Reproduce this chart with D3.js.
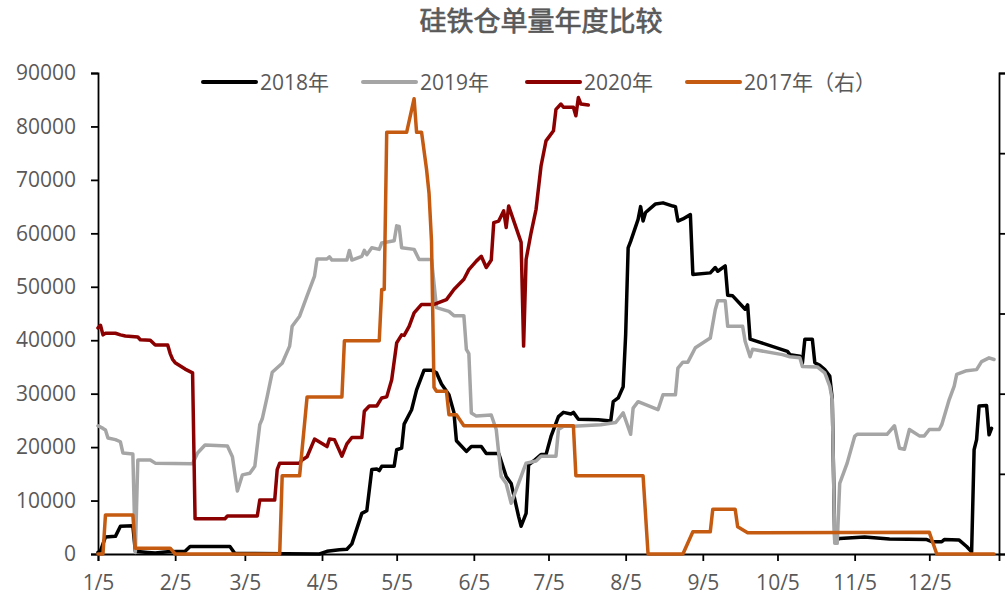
<!DOCTYPE html>
<html>
<head>
<meta charset="utf-8">
<title>硅铁仓单量年度比较</title>
<script src="https://cdnjs.cloudflare.com/ajax/libs/d3/7.8.5/d3.min.js"></script>
<style>
  body { margin: 0; background: #fff; }
  svg text { font-family: "Open Sans", "Noto Sans CJK SC", sans-serif; fill: #595959; }
</style>
</head>
<body>
<script>
// 仓单量 (date in MM-DD, value)
const s2018 = [
  ["01-05",300],["01-06",600],["01-08",3200],["01-12",3300],["01-14",5200],["01-19",5300],
  ["01-20",500],["01-25",300],["01-28",200],["02-02",400],["02-09",500],["02-11",1400],
  ["02-27",1400],["03-01",100],["04-04",0],["04-07",500],["04-12",800],["04-15",900],
  ["04-17",1900],["04-21",7600],["04-23",8100],["04-25",15800],["04-27",15900],["04-28",15600],
  ["04-29",16400],["05-04",16400],["05-05",19500],["05-07",19800],["05-08",24300],["05-11",27000],
  ["05-13",30700],["05-16",34400],["05-19",34400],["05-21",33900],["05-23",31800],["05-26",29800],
  ["05-28",26500],["05-29",21200],["06-02",19200],["06-04",20100],["06-08",20100],["06-10",18800],
  ["06-15",18800],["06-18",14500],["06-20",13200],["06-23",7000],["06-24",5200],["06-26",7600],
  ["06-27",16700],["06-29",17400],["07-02",18600],["07-04",18600],["07-06",22000],["07-09",25700],
  ["07-11",26500],["07-14",26200],["07-15",26500],["07-17",25200],["07-25",25100],["07-30",24900],
  ["07-31",28500],["08-02",29200],["08-04",31300],["08-05",41000],["08-06",57300],["08-07",58500],
  ["08-10",62600],["08-11",65000],["08-12",62300],["08-13",63900],["08-17",65500],["08-20",65700],
  ["08-24",65100],["08-25",65000],["08-26",62300],["08-28",62700],["08-31",63500],["09-01",52300],
  ["09-08",52600],["09-10",53600],["09-11",52900],["09-14",53900],["09-15",48400],["09-17",48300],
  ["09-22",45800],["09-23",46600],["09-24",40200],["09-28",39600],["10-09",37900],["10-10",37300],
  ["10-14",37000],["10-15",35700],["10-16",40200],["10-19",40200],["10-20",35800],["10-22",35300],
  ["10-24",34500],["10-26",33300],["10-27",29000],["10-28",2600],["10-30",2900],["11-09",3200],
  ["11-19",2800],["12-04",2700],["12-06",2300],["12-10",2300],["12-11",2700],["12-17",2600],
  ["12-20",1400],["12-22",400],["12-23",19500],["12-24",21400],["12-25",27700],["12-28",27800],
  ["12-29",22300],["12-30",23500]
];

const s2019 = [
  ["01-05",24000],["01-07",23500],["01-08",23200],["01-09",21700],["01-12",21400],["01-14",21000],
  ["01-15",18900],["01-19",18700],["01-20",300],["01-21",17600],["01-26",17600],["01-28",17000],
  ["02-12",16900],["02-14",18900],["02-17",20400],["02-26",20200],["02-28",18200],["03-02",11800],
  ["03-04",14800],["03-07",15100],["03-09",16400],["03-11",24200],["03-12",25300],["03-14",29500],
  ["03-16",34000],["03-20",35700],["03-23",38900],["03-24",42600],["03-27",44500],["03-30",48300],
  ["04-02",52000],["04-03",55200],["04-07",55200],["04-08",55600],["04-09",55000],["04-15",55000],
  ["04-16",56800],["04-17",55000],["04-21",55700],["04-22",56800],["04-23",56000],["04-25",57300],
  ["04-28",57000],["04-29",58200],["05-04",58600],["05-05",61400],["05-06",61300],["05-07",57300],
  ["05-12",57000],["05-14",55100],["05-19",55100],["05-21",46100],["05-26",45400],["05-28",44600],
  ["06-01",44600],["06-02",38300],["06-03",37500],["06-04",26400],["06-06",25800],["06-12",26000],
  ["06-14",23300],["06-16",14500],["06-18",13200],["06-20",9500],["06-22",12000],["06-25",15800],
  ["06-26",17000],["06-30",17400],["07-02",18300],["07-08",18300],["07-09",23300],["07-11",23900],
  ["07-15",23900],["07-26",24200],["08-01",24600],["08-04",26400],["08-07",22400],["08-08",27300],
  ["08-10",28500],["08-18",27000],["08-20",29800],["08-25",29800],["08-26",34800],["08-28",35900],
  ["08-30",35900],["09-02",38600],["09-08",40400],["09-10",45700],["09-11",47400],["09-14",47400],
  ["09-15",42600],["09-21",42600],["09-22",39800],["09-24",36900],["09-25",38300],["10-07",37300],
  ["10-10",36900],["10-14",36700],["10-15",35100],["10-21",35000],["10-24",33900],["10-26",31400],
  ["10-27",28900],["10-28",2000],["10-29",2000],["10-30",13200],["11-02",17000],["11-05",22000],
  ["11-06",22400],["11-18",22400],["11-21",24000],["11-23",19800],["11-25",19600],["11-27",23300],
  ["12-01",22100],["12-03",22100],["12-05",23300],["12-09",23300],["12-10",24200],["12-13",28900],
  ["12-15",31400],["12-16",33600],["12-20",34300],["12-24",34500],["12-26",36000],["12-29",36700],
  ["12-31",36400]
];

const s2020 = [
  ["01-05",42300],["01-06",42800],["01-07",41000],["01-08",41300],["01-12",41300],["01-14",41000],
  ["01-16",40800],["01-21",40600],["01-22",40100],["01-26",40000],["01-28",39100],["02-02",39100],
  ["02-03",37500],["02-04",36400],["02-05",35800],["02-09",34600],["02-12",33900],["02-13",6600],
  ["02-25",6600],["02-26",7100],["03-10",7100],["03-11",10100],["03-17",10100],["03-18",15800],
  ["03-19",17000],["03-27",17000],["03-28",17600],["03-30",18200],["04-02",21500],["04-07",20100],
  ["04-08",21500],["04-10",21400],["04-13",18300],["04-15",20600],["04-17",21800],["04-21",21800],
  ["04-22",26700],["04-24",27700],["04-27",27700],["04-29",29200],["05-01",29400],["05-03",32600],
  ["05-05",39500],["05-07",41000],["05-08",40900],["05-10",42600],["05-12",45100],["05-15",46700],
  ["05-20",46700],["05-25",47600],["05-28",49500],["06-01",51400],["06-03",53200],["06-06",54800],
  ["06-08",55700],["06-10",53600],["06-12",55000],["06-13",62000],["06-15",62300],["06-17",64200],
  ["06-18",61100],["06-19",65100],["06-24",58300],["06-25",38900],["06-26",55100],["06-28",60100],
  ["06-30",64500],["07-02",72600],["07-04",77300],["07-07",79200],["07-08",83200],["07-10",84200],
  ["07-11",83600],["07-15",83600],["07-16",82000],["07-17",85400],["07-18",84200],["07-21",84000]
];

// 2017年 plotted on the right axis
const s2017 = [
  ["01-05",0],["01-07",0],["01-08",2440],["01-19",2440],["01-20",360],["02-03",360],
  ["02-05",0],["03-19",0],["03-20",4880],["03-27",4880],["03-30",9790],["04-13",9790],
  ["04-14",13300],["04-28",13300],["04-29",16500],["04-30",16500],["05-01",26300],["05-09",26300],
  ["05-12",28400],["05-13",26300],["05-15",26300],["05-17",24000],["05-18",22500],["05-19",19500],
  ["05-20",10400],["05-21",10150],["05-25",10150],["05-26",8690],["05-29",8690],["06-01",8000],
  ["07-15",8000],["07-16",4880],["08-12",4880],["08-14",0],["08-28",0],["09-01",1390],
  ["09-08",1390],["09-09",2790],["09-18",2790],["09-19",1700],["09-23",1330],["12-05",1350],
  ["12-08",0],["12-31",0]
];

const leftTicks = d3.range(0, 90001, 10000);
const rightTicks = d3.range(0, 30001, 5000);
const tickDates = ["01-05","02-05","03-05","04-05","05-05","06-05","07-05","08-05","09-05","10-05","11-05","12-05"];

const seriesNames = ["2018年", "2019年", "2020年", "2017年（右）"];
const seriesColors = ["#000000", "#a5a5a5", "#8b0000", "#c55a11"];

const W = 1005, H = 600;
const parse = d3.timeParse("%Y-%m-%d");
const toDate = s => parse("2018-" + s);

const svg = d3.select("body").append("svg")
  .attr("width", W).attr("height", H);

const x = d3.scaleTime()
  .domain([toDate("01-05"), parse("2019-01-02")])
  .range([98, 999]);
const yL = d3.scaleLinear().domain([0, 90000]).range([554, 73]);
const yR = d3.scaleLinear().domain([0, 30000]).range([554, 73]);

// title
svg.append("text")
  .attr("x", 541).attr("y", 31)
  .attr("text-anchor", "middle")
  .style("font-size", "27px")
  .style("font-family", "'Noto Sans CJK SC', sans-serif")
  .attr("stroke", "#595959").attr("stroke-width", 0.7)
  .text("硅铁仓单量年度比较");

// axes
svg.append("g")
  .attr("transform", "translate(0,554)")
  .call(d3.axisBottom(x)
    .tickValues(tickDates.map(toDate))
    .tickFormat(d3.timeFormat("%-m/%-d"))
    .tickSizeOuter(0).tickSize(7).tickPadding(14));

svg.append("g")
  .attr("transform", "translate(98,0)")
  .call(d3.axisLeft(yL).tickValues(leftTicks).tickFormat(d3.format("d"))
    .tickSizeOuter(0).tickSize(7).tickPadding(15));

// right axis labels fall outside the picture, only the ticks show
svg.append("g")
  .attr("transform", "translate(999,0)")
  .call(d3.axisRight(yR).tickValues(rightTicks).tickFormat("")
    .tickSizeOuter(0).tickSize(7));

svg.selectAll(".domain, .tick line")
  .attr("stroke", "#000").attr("stroke-width", 1.8);
svg.selectAll(".tick text")
  .style("font-size", "21px").attr("fill", "#595959");

// lines
const lineL = d3.line().x(d => x(toDate(d[0]))).y(d => yL(d[1]));
const lineR = d3.line().x(d => x(toDate(d[0]))).y(d => yR(d[1]));

const plotted = [
  [s2018, lineL], [s2019, lineL], [s2020, lineL], [s2017, lineR]
];
// excel order: primary series first, the secondary-axis series on top
plotted.forEach((p, i) => {
  svg.append("path")
    .datum(p[0])
    .attr("fill", "none")
    .attr("stroke", seriesColors[i])
    .attr("stroke-width", 3.5)
    .attr("stroke-linejoin", "round")
    .attr("stroke-linecap", "round")
    .attr("d", p[1]);
});

// legend
const legendX = [203, 363, 527, 687];
const lg = svg.append("g").attr("transform", "translate(0,82)");
seriesNames.forEach((name, i) => {
  lg.append("line")
    .attr("x1", legendX[i]).attr("x2", legendX[i] + 53)
    .attr("y1", 0).attr("y2", 0)
    .attr("stroke", seriesColors[i]).attr("stroke-width", 4)
    .attr("stroke-linecap", "round");
  lg.append("text")
    .attr("x", legendX[i] + 57).attr("y", 7.5)
    .style("font-size", "21px")
    .text(name);
});
</script>
</body>
</html>
